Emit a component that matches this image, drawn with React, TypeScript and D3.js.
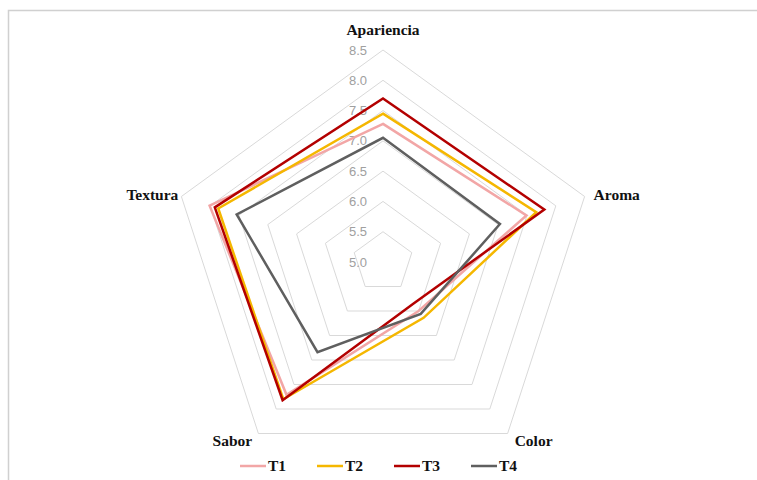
import React from "react";
import * as d3 from "d3";

const axes = ["Apariencia", "Aroma", "Color", "Sabor", "Textura"];
const ticks = [5.0, 5.5, 6.0, 6.5, 7.0, 7.5, 8.0, 8.5];
const seriesNames = ["T1", "T2", "T3", "T4"];
const t1 = [7.28, 7.49, 6.0, 7.71, 8.01];
const t2 = [7.45, 7.66, 6.14, 7.8, 7.86];
const t3 = [7.7, 7.8, 5.85, 7.82, 7.92];
const t4 = [7.05, 7.03, 6.06, 6.84, 7.54];
const seriesValues = [t1, t2, t3, t4];
const colors = ["#f2a6a6", "#f5b700", "#b30000", "#5f5f5f"];

export default function App() {
  const W = 757, H = 480;
  const cx = 383, cy = 262, R = 212;
  const r = d3.scaleLinear().domain([5, 8.5]).range([0, R]);
  const ang = (i: number) => (i * 2 * Math.PI) / axes.length;
  const pt = (i: number, v: number): [number, number] => [
    cx + r(v) * Math.sin(ang(i)),
    cy - r(v) * Math.cos(ang(i)),
  ];
  const line = d3.line<[number, number]>().curve(d3.curveLinearClosed);

  const labelPos = [
    { dx: 0, dy: -20, anchor: "middle" },
    { dx: 9, dy: -2, anchor: "start" },
    { dx: 26, dy: 7, anchor: "middle" },
    { dx: -26, dy: 7, anchor: "middle" },
    { dx: -3, dy: -2, anchor: "end" },
  ];

  return (
    <svg width={W} height={H} style={{ position: "absolute", left: 0, top: 0, display: "block" }}>
      <rect x={0} y={0} width={W} height={H} fill="#ffffff" />
      <rect x={8.5} y={10.5} width={W + 10} height={H + 10} fill="none" stroke="#d0d0d0" strokeWidth={1.5} />
      {ticks.map((t) => (
        <path
          key={t}
          d={line(axes.map((_, i) => pt(i, t))) || ""}
          fill="none"
          stroke="#d9d9d9"
          strokeWidth={1}
        />
      ))}
      {ticks.map((t) => (
        <text
          key={"l" + t}
          x={cx - 16}
          y={cy - r(t)}
          dy="0.35em"
          textAnchor="end"
          fontFamily="Liberation Sans, Arial, sans-serif"
          fontSize={13}
          fill="#a0a0a0"
        >
          {t.toFixed(1)}
        </text>
      ))}
      {seriesValues.map((vals, s) => (
        <path
          key={seriesNames[s]}
          d={line(vals.map((v, i) => pt(i, v))) || ""}
          fill="none"
          stroke={colors[s]}
          strokeWidth={2.5}
          strokeLinejoin="miter"
        />
      ))}
      {axes.map((a, i) => {
        const [x, y] = pt(i, 8.5);
        const p = labelPos[i];
        return (
          <text
            key={a}
            x={x + p.dx}
            y={y + p.dy}
            dy="0.35em"
            textAnchor={p.anchor as any}
            fontFamily="Liberation Serif, Times New Roman, serif"
            fontWeight="bold"
            fontSize={15.5}
            fill="#111"
          >
            {a}
          </text>
        );
      })}
      {seriesNames.map((n, s) => {
        const x0 = 240 + s * 77;
        const y0 = 466;
        return (
          <g key={"lg" + n}>
            <line x1={x0} x2={x0 + 26} y1={y0} y2={y0} stroke={colors[s]} strokeWidth={2.5} />
            <text
              x={x0 + 28}
              y={y0}
              dy="0.35em"
              fontFamily="Liberation Serif, Times New Roman, serif"
              fontWeight="bold"
              fontSize={15.5}
              fill="#111"
            >
              {n}
            </text>
          </g>
        );
      })}
    </svg>
  );
}
